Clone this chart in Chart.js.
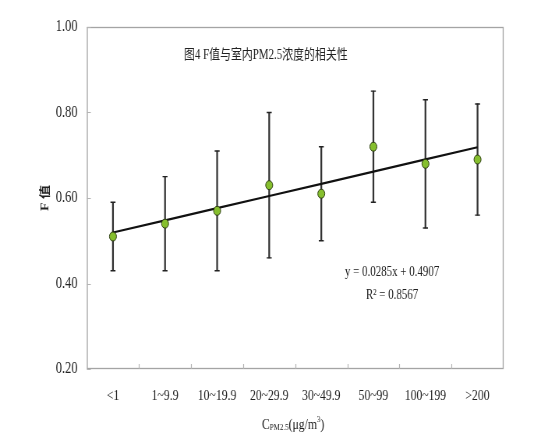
<!DOCTYPE html>
<html><head><meta charset="utf-8">
<script src="https://cdn.jsdelivr.net/npm/chart.js@4/dist/chart.umd.min.js"></script>
<style>
html,body{margin:0;padding:0;background:#fff;overflow:hidden}
#wrap{width:703px;height:435px;transform:scaleX(0.7795);transform-origin:0 0}
</style>
</head><body>
<div id="wrap"><canvas id="c" width="703" height="435"></canvas></div>
<script>
const categories = ['<1','1~9.9','10~19.9','20~29.9','30~49.9','50~99','100~199','>200'];
const fValues = [0.51,0.54,0.57,0.63,0.61,0.72,0.68,0.69];
const errHigh = [0.59,0.65,0.71,0.80,0.72,0.85,0.83,0.82];
const errLow  = [0.43,0.43,0.43,0.46,0.50,0.59,0.53,0.56];
const yTicks = [0.20,0.40,0.60,0.80,1.00];
const trendSlope = 0.0285;
const trendIntercept = 0.4907;
const chartTitle = '图4 F值与室内PM2.5浓度的相关性';
const eqLine1 = 'y = 0.0285x + 0.4907';
const eqLine2 = 'R² = 0.8567';
const yTitle = 'F 值';

const serif = '"Liberation Serif","Times New Roman",serif';
const cjk = '"Liberation Serif","Noto Sans CJK SC",serif';

const trendValues = categories.map((_, i) => trendSlope * (i + 1) + trendIntercept);

const decor = {
  id: 'decor',
  afterDraw(chart) {
    const {ctx, chartArea: a, scales: {x, y}} = chart;
    ctx.save();
    // frame
    ctx.strokeStyle = '#a4a4a4';
    ctx.lineWidth = 1.3;
    ctx.strokeRect(a.left + 0.5, a.top + 0.5, a.right - a.left - 1, a.bottom - a.top - 1);
    // inside ticks
    ctx.strokeStyle = '#b4b4b4';
    ctx.lineWidth = 1.2;
    ctx.beginPath();
    yTicks.forEach(v => {
      const py = Math.round(y.getPixelForValue(v)) + 0.5;
      ctx.moveTo(a.left, py); ctx.lineTo(a.left + 5, py);
    });
    for (let i = 0; i < categories.length - 1; i++) {
      const px = Math.round((x.getPixelForValue(i) + x.getPixelForValue(i + 1)) / 2) + 0.5;
      ctx.moveTo(px, a.bottom); ctx.lineTo(px, a.bottom - 5);
    }
    ctx.stroke();
    // title inside plot
    ctx.fillStyle = '#222';
    ctx.textAlign = 'center';
    ctx.textBaseline = 'middle';
    ctx.font = '14px ' + cjk;
    ctx.fillText(chartTitle, 341, 55);
    // equation
    ctx.font = '14px ' + serif;
    ctx.fillText(eqLine1, 503, 272);
    ctx.fillText(eqLine2, 503, 295);
    // x axis title with sub/superscript
    const parts = [
      {t: 'C', f: '15px ' + serif, dy: 0},
      {t: 'PM2.5', f: '9px ' + serif, dy: 3},
      {t: '(μg/m', f: '15px ' + serif, dy: 0},
      {t: '3', f: '9px ' + serif, dy: -5},
      {t: ')', f: '15px ' + serif, dy: 0}
    ];
    let total = 0;
    parts.forEach(p => { ctx.font = p.f; p.w = ctx.measureText(p.t).width; total += p.w; });
    let cx = 376 - total / 2;
    ctx.textAlign = 'left';
    parts.forEach(p => { ctx.font = p.f; ctx.fillText(p.t, cx, 425 + p.dy); cx += p.w; });
    ctx.restore();
  }
};

new Chart(document.getElementById('c'), {
  type: 'bar',
  data: {
    labels: categories,
    datasets: [
      {
        type: 'line', data: fValues, showLine: false, order: 0,
        pointRadius: 4.5, pointHoverRadius: 4.5, pointBackgroundColor: '#86bf2e',
        pointBorderColor: '#2a3a10', pointBorderWidth: 1
      },
      {
        type: 'line', data: trendValues, order: 1, borderColor: '#111', borderWidth: 2.2,
        pointRadius: 0, tension: 0, fill: false
      },
      {
        type: 'line', data: errHigh, showLine: false, order: 2,
        pointStyle: 'line', pointRadius: 3.2, pointBorderColor: '#222', pointBorderWidth: 1.4
      },
      {
        type: 'line', data: errLow, showLine: false, order: 2,
        pointStyle: 'line', pointRadius: 3.2, pointBorderColor: '#222', pointBorderWidth: 1.4
      },
      {
        type: 'bar', data: errLow.map((l, i) => [l, errHigh[i]]), order: 3,
        barThickness: 1.6, backgroundColor: '#333', borderWidth: 0
      }
    ]
  },
  options: {
    responsive: false, animation: false,
    layout: {padding: {left: 0, right: 57, top: 27, bottom: 0}},
    plugins: {legend: {display: false}, tooltip: {enabled: false}},
    scales: {
      x: {
        offset: true,
        grid: {display: false, offset: true, drawTicks: false},
        border: {display: false},
        ticks: {font: {family: serif, size: 15}, color: '#222', padding: 18, maxRotation: 0, autoSkip: false},
        afterFit(s) { s.height = 66; }
      },
      y: {
        min: 0.2, max: 1.0,
        afterBuildTicks(s) { s.ticks = yTicks.map(v => ({value: v})); },
        grid: {display: false, drawTicks: false},
        border: {display: false},
        ticks: {font: {family: serif, size: 16}, color: '#222', padding: 12, callback: v => v.toFixed(2)},
        title: {display: true, text: yTitle, font: {family: cjk, size: 14, weight: 'bold'}, color: '#222', padding: {top: 50, bottom: 0}},
        afterFit(s) { s.width = 111.5; }
      }
    }
  },
  plugins: [decor]
});
</script>
</body></html>
